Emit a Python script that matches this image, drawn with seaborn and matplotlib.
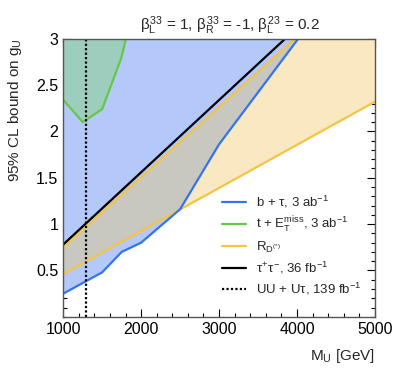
import numpy as np
import pandas as pd
import matplotlib
matplotlib.use("Agg")
import matplotlib.pyplot as plt
from matplotlib.ticker import MultipleLocator
import seaborn as sns

m_btau = [1000, 1500, 1750, 2000, 2500, 3000, 4017]
g_btau = [0.25, 0.48, 0.70, 0.80, 1.16, 1.86, 3.0]

m_tmet = [1000, 1250, 1500, 1745, 1805]
g_tmet = [2.34, 2.10, 2.24, 2.79, 3.0]

m_rd_up = [1000, 3975]
g_rd_up = [0.75, 3.0]
m_rd_lo = [1000, 5000]
g_rd_lo = [0.46, 2.32]

m_tautau = [1000, 3850]
g_tautau = [0.78, 3.0]

m_pair = 1295

labels = ["b + $\\tau$, 3 ab$^{-1}$",
          "t + E$_{\\mathrm{T}}^{\\mathrm{miss}}$, 3 ab$^{-1}$",
          "R$_{\\mathrm{D}^{(*)}}$",
          "$\\tau^{+}\\tau^{-}$, 36 fb$^{-1}$",
          "UU + U$\\tau$, 139 fb$^{-1}$"]

sns.set_style("ticks")
plt.rcParams['font.family'] = ['Liberation Sans', 'DejaVu Sans']
plt.rcParams['mathtext.fontset'] = 'custom'
plt.rcParams['mathtext.rm'] = 'Liberation Sans'
plt.rcParams['mathtext.it'] = 'Liberation Sans'
plt.rcParams['mathtext.bf'] = 'Liberation Sans:bold'

fig = plt.figure(figsize=(3.95, 3.79), dpi=100)
ax = fig.add_axes([0.16, 0.164, 0.789, 0.734])

c_blue, c_green, c_yel = "#3375ee", "#66c845", "#f5c445"
f_blue, f_green, f_yel, f_gray = "#b4c8f9", "#9ccdbd", "#f9e8c2", "#c8c8c1"

x = np.linspace(1000, 5000, 2001)
yb = np.interp(x, m_btau, g_btau)
yg = np.interp(x, m_tmet, g_tmet)
yu = np.interp(x, m_rd_up, g_rd_up, right=3.0)
yl = np.interp(x, m_rd_lo, g_rd_lo)

ax.fill_between(x, yb, 3.0, where=yb < 3.0, color=f_blue, lw=0)
ax.fill_between(x, yl, yu, where=yu > yl, color=f_yel, lw=0)
lo = np.maximum(yb, yl)
ax.fill_between(x, lo, yu, where=yu > lo, color=f_gray, lw=0)
ax.fill_between(x, yg, 3.0, where=yg < 3.0, color=f_green, lw=0)

sns.lineplot(x=m_rd_up, y=g_rd_up, ax=ax, color=c_yel, lw=1.6, sort=False)
sns.lineplot(x=m_rd_lo, y=g_rd_lo, ax=ax, color=c_yel, lw=1.6, sort=False)
sns.lineplot(x=m_btau, y=g_btau, ax=ax, color=c_blue, lw=1.6, sort=False)
sns.lineplot(x=m_tmet, y=g_tmet, ax=ax, color=c_green, lw=1.6, sort=False)
sns.lineplot(x=m_tautau, y=g_tautau, ax=ax, color="black", lw=1.6, sort=False)
ax.axvline(m_pair, color="black", ls=(0, (1, 1)), lw=1.6)

handles = [plt.Line2D([], [], color=c_blue, lw=1.6),
           plt.Line2D([], [], color=c_green, lw=1.6),
           plt.Line2D([], [], color=c_yel, lw=1.6),
           plt.Line2D([], [], color="black", lw=1.6),
           plt.Line2D([], [], color="black", lw=1.6, ls=(0, (1, 1)))]
ax.legend(handles, labels, loc="lower left", bbox_to_anchor=(0.472, 0.03),
          frameon=False, fontsize=9.5, handlelength=1.8, labelspacing=0.36,
          handletextpad=0.8)

ax.set_xlim(1000, 5000)
ax.set_ylim(0.0, 3.0)
ax.set_xticks([1000, 2000, 3000, 4000, 5000])
ax.set_yticks([0.5, 1, 1.5, 2, 2.5, 3])
ax.set_yticklabels(["0.5", "1", "1.5", "2", "2.5", "3"])
ax.xaxis.set_minor_locator(MultipleLocator(200))
ax.yaxis.set_minor_locator(MultipleLocator(0.1))
ax.tick_params(which="both", direction="in", top=True, right=True,
               labelsize=11.5, colors="black")
ax.tick_params(which="major", length=6, width=0.8)
ax.tick_params(which="minor", length=3, width=0.8)
for s in ax.spines.values():
    s.set_color("#555555")
    s.set_linewidth(1.0)

ax.set_xlabel("M$_{\\mathrm{U}}$ [GeV]", fontsize=11, ha="right")
ax.xaxis.set_label_coords(1.0, -0.11)
ax.set_ylabel("95% CL bound on g$_{\\mathrm{U}}$", fontsize=11, ha="right")
ax.yaxis.set_label_coords(-0.125, 1.0)
ax.set_title("$\\beta_{\\mathrm{L}}^{33}$ = 1, $\\beta_{\\mathrm{R}}^{33}$ = -1, "
             "$\\beta_{\\mathrm{L}}^{23}$ = 0.2", fontsize=11, x=0.535, pad=6)

fig.savefig("out.png", dpi=100)
